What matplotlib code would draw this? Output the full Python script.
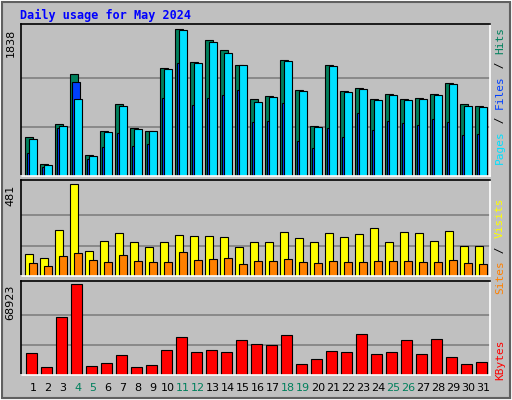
import matplotlib
matplotlib.use("Agg")
import matplotlib.pyplot as plt
from matplotlib.patches import Rectangle
import numpy as np

days = list(range(1, 32))
weekends = [4, 5, 11, 12, 18, 19, 25, 26]
hits = [485,146,647,1278,259,560,898,597,560,1349,1838,1424,1700,1575,1387,961,998,1449,1074,622,1387,1061,1099,961,1023,961,973,1023,1161,898,873]
files = [284,109,597,1174,209,359,535,372,397,973,1412,886,973,1011,1074,673,685,911,434,347,597,485,785,572,685,660,635,710,673,510,522]
pages = [459,134,622,961,246,547,873,585,560,1337,1825,1412,1675,1537,1387,923,986,1437,1061,610,1374,1048,1086,948,1011,948,961,1011,1149,873,860]
visits = [115,94,241,481,131,183,225,178,152,178,214,209,209,204,152,178,178,230,199,178,225,204,220,251,178,230,225,183,235,157,157]
sites = [68,52,105,120,84,73,110,78,73,73,125,84,89,94,63,78,78,89,73,68,78,73,73,78,78,78,73,73,84,68,63]
kbytes = [16665,6060,43935,68923,6818,9090,15150,6060,7575,18938,28785,17423,18938,17423,26513,23483,22725,30300,8333,12120,18180,17423,31058,15908,17423,26513,15908,27270,13635,8333,9848]

BG = "#C0C0C0"
W, H = 512, 400
fig = plt.figure(figsize=(5.12, 4.0), dpi=100, facecolor=BG)
# bevel border
fig.patches.append(Rectangle((0, 0), 1, 1, transform=fig.transFigure, fill=False, ec="white", lw=2))
fig.patches.append(Rectangle((0.004, 0.004), 0.992, 0.992, transform=fig.transFigure, fill=False, ec="#606060", lw=1.5))

px = 1 / 15.0
x0 = 1 - 4.3 / 15
x1 = x0 + 469.3 / 15
left = 20.7 / W
width = 469.3 / W

def mkax(top, base, ymax_val, ymax_px):
    ax = fig.add_axes([left, 1 - base / H, width, (base - top) / H])
    ax.set_facecolor(BG)
    ax.set_xlim(x0, x1)
    ylim = ymax_val * (base - top) / (base - ymax_px)
    ax.set_ylim(0, ylim)
    for f in (1/3, 2/3):
        ax.axhline(ymax_val * f, color="#808080", lw=1.2, zorder=0)
    ax.set_xticks([]); ax.set_yticks([])
    for s in ("left", "top"):
        ax.spines[s].set_color("black")
    for s in ("right", "bottom"):
        ax.spines[s].set_color("white")
    for s in ax.spines.values():
        s.set_linewidth(1.2)
    ax.text(-0.022, 1 - (ymax_px - top) / (base - top), str(ymax_val), transform=ax.transAxes,
            rotation=90, ha="center", va="top", fontsize=8, family="DejaVu Sans")
    return ax

mono = "DejaVu Sans Mono"
d = np.array(days, dtype=float)

ax1 = mkax(24.3, 176, 1838, 29)
ax1.bar(d, hits, width=8*px, align="edge", color="#00805C", ec="black", lw=0.8)
ax1.bar(d + 2*px, files, width=8*px, align="edge", color="#0040FF", ec="black", lw=0.8)
ax1.bar(d + 4*px, pages, width=8*px, align="edge", color="#00E0FF", ec="black", lw=0.8)

ax2 = mkax(180.3, 276.3, 481, 184.3)
ax2.bar(d, visits, width=8*px, align="edge", color="#FFFF00", ec="black", lw=0.8)
ax2.bar(d + 4*px, sites, width=8*px, align="edge", color="#FF8000", ec="black", lw=0.8)

ax3 = mkax(281, 375.3, 68923, 284.3)
ax3.bar(d + 1*px, kbytes, width=10.5*px, align="edge", color="#FF0000", ec="black", lw=0.8)

# day labels
for i in days:
    c = "#00805C" if i in weekends else "black"
    xf = (left * W + (i - x0) * 15 + 8) / W
    fig.text(xf, 1 - 388 / H, str(i), color=c, ha="center", va="center", fontsize=8, family="DejaVu Sans")

fig.text(20 / W, 1 - 15 / H, "Daily usage for May 2024", color="#0000FF", fontsize=8.5,
         fontweight="bold", family=mono, ha="left", va="center")

def vlabel(parts, ytop):
    y = ytop
    for t, c in parts:
        fig.text(500 / W, 1 - y / H, t, color=c, rotation=90, ha="center", va="top",
                 fontsize=8, family=mono)
        y += len(t) * 6.9

vlabel([("Hits", "#00805C"), (" / ", "black"), ("Files", "#0040FF"), (" / ", "black"), ("Pages", "#00E0FF")], 27)
vlabel([("Visits", "#FFFF00"), (" / ", "black"), ("Sites", "#FF8000")], 198)
vlabel([("KBytes", "#FF0000")], 340)

# reverse text order: texts rotated 90 read bottom-to-top, so place accordingly
fig.savefig("out.png", dpi=100, facecolor=BG)
